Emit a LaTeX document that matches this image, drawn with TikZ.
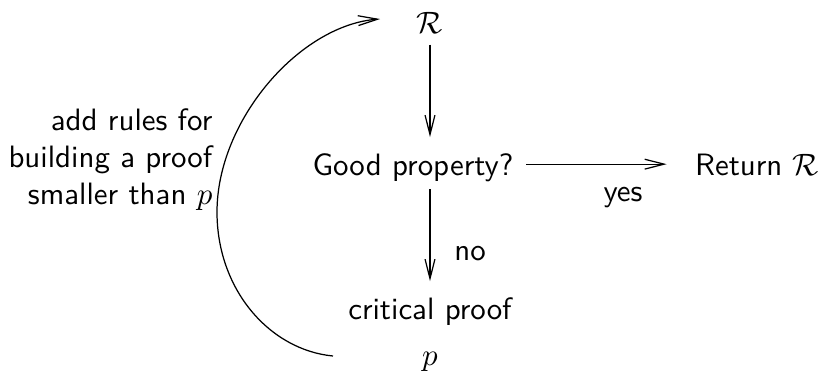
\documentclass[tikz,border=0pt]{standalone}
\usetikzlibrary{arrows.meta}
\begin{document}
\begin{tikzpicture}[x=0.3236pt,y=-0.3236pt,
  lbl/.style={inner sep=0pt,font=\sffamily},
  arr/.style={-{Straight Barb[length=6.3pt,width=3.2pt]},line width=0.4pt}]
\useasboundingbox (0,0) rectangle (821,373);
\node[lbl,anchor=base] (R) at (430,33) {$\mathcal{R}$};
\node[lbl,anchor=base] (good) at (413,175) {Good property?};
\node[lbl,anchor=base] (ret) at (757,175) {Return $\mathcal{R}$};
\node[lbl,anchor=base] (yes) at (623,201) {yes};
\node[lbl,anchor=base] (no) at (470,260) {no};
\node[lbl,anchor=base] (crit) at (430,319) {critical proof};
\node[lbl,anchor=base] (p) at (430,365) {$p$};
\node[lbl,anchor=east,align=right] (add) at (213,160) {add rules for\\building a proof\\smaller than $p$};
\coordinate (cs) at (333,356);
\coordinate (ce) at (380,19);
\coordinate (cm) at (217,212);
\draw[arr,shorten <=3.6pt,shorten >=5pt] (R.south) -- (R.south |- good.north);
\draw[arr,shorten <=2.3pt,shorten >=5pt] (R.south |- good.south) -- (R.south |- crit.north);
\draw[arr,shorten <=4pt,shorten >=9pt] ([yshift=1pt]good.east) -- ([yshift=1pt]good.east -| ret.west);
\draw[arr] (cs) .. controls (270,350) and (217,290) .. (cm)
  .. controls (217,120) and (300,25) .. (ce);
\end{tikzpicture}
\end{document}
